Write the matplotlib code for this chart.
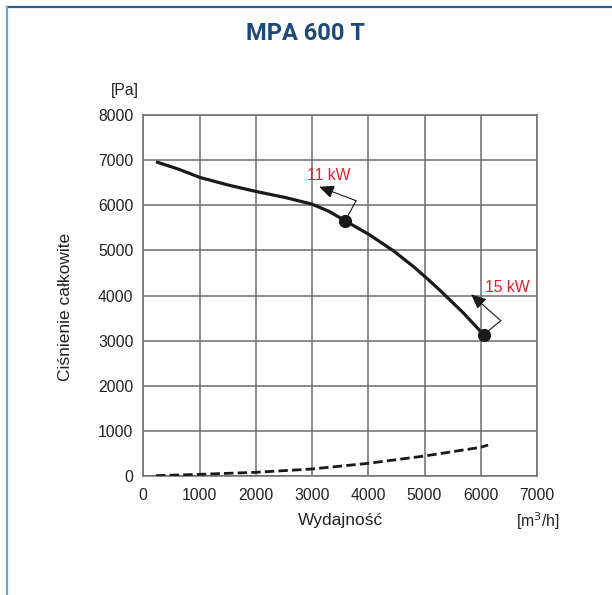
import matplotlib
matplotlib.use("Agg")
import matplotlib.pyplot as plt
from matplotlib.lines import Line2D

# ---- data ----
flow_solid = [226, 623, 1009, 1512, 2005, 2521, 2996, 3292, 3530, 3589, 4016, 4448,
              4804, 5025, 5279, 5694, 6050]
pressure_solid = [6963, 6801, 6615, 6447, 6305, 6172, 6026, 5870, 5700, 5655, 5350, 4990,
                  4640, 4400, 4110, 3610, 3132]

flow_dashed = [226, 1000, 2000, 3000, 4000, 5000, 6000, 6130]
pressure_dashed = [8, 37, 82, 155, 281, 443, 636, 687]

power_labels = ["11 kW", "15 kW"]
power_points_x = [3589, 6050]
power_points_y = [5655, 3132]
corner_x = [3783, 6356]
corner_y = [6101, 3441]
tip_x = [3125, 5828]
tip_y = [6411, 4027]
label_x = [3300, 6077]
label_y = [6670, 4173]
label_ha = ["center", "left"]

x_ticks = [0, 1000, 2000, 3000, 4000, 5000, 6000, 7000]
y_ticks = [0, 1000, 2000, 3000, 4000, 5000, 6000, 7000, 8000]

title = "MPA 600 T"
x_label = "Wydajność"
y_label = "Ciśnienie całkowite"
x_unit = "[m$^3$/h]"
y_unit = "[Pa]"

plt.rcParams['font.family'] = ['Liberation Sans', 'DejaVu Sans']

fig = plt.figure(figsize=(6.12, 5.95), dpi=100)
W, H = 612, 595

# frame lines
fig.add_artist(Line2D([6.5 / W, 1.0], [1 - 7 / H, 1 - 7 / H], color="#2c5d8f", lw=1.6,
                      transform=fig.transFigure))
fig.add_artist(Line2D([6.5 / W, 6.5 / W], [0, 1 - 7 / H], color="#7aa3cc", lw=1.6,
                      transform=fig.transFigure))

ax = fig.add_axes([143.3 / W, 1 - 476 / H, (537 - 143.3) / W, (476 - 115) / H])
ax.set_xlim(0, 7000)
ax.set_ylim(0, 8000)
ax.set_xticks(x_ticks)
ax.set_yticks(y_ticks)
ax.grid(True, color="#6e6e6e", lw=1.1)
ax.set_axisbelow(True)
for s in ax.spines.values():
    s.set_color("#6e6e6e")
    s.set_linewidth(1.1)
ax.tick_params(length=0, labelsize=11.3, colors="#222222", pad=7)
ax.tick_params(axis="x", pad=9)

ax.plot(flow_solid, pressure_solid, color="#1a1a1a", lw=2.3, solid_capstyle="butt",
        solid_joinstyle="round", zorder=3)
ax.plot(flow_dashed, pressure_dashed, color="#1a1a1a", lw=2.0, dashes=(3.4, 1.5), zorder=3)
ax.plot(power_points_x, power_points_y, "o", color="#1a1a1a", ms=8.5, zorder=4)

for i in range(len(power_labels)):
    ax.plot([power_points_x[i], corner_x[i]], [power_points_y[i], corner_y[i]],
            color="#1a1a1a", lw=0.8, zorder=3)
    ax.annotate("", xy=(tip_x[i], tip_y[i]), xytext=(corner_x[i], corner_y[i]),
                arrowprops=dict(arrowstyle="-|>,head_length=0.9,head_width=0.4",
                                color="#1a1a1a", lw=0.8, shrinkA=0, shrinkB=0),
                zorder=3)
    ax.text(label_x[i], label_y[i], power_labels[i], color="#e8202a", fontsize=11.3,
            ha=label_ha[i], va="center", zorder=5)

fig.text(0.5, 1 - 33 / H, title, ha="center", va="center", fontsize=17,
         fontweight="bold", color="#1b4a7a", family=["Roboto", "DejaVu Sans"])
fig.text((143.3 + 537) / 2 / W, 1 - 521 / H, x_label, ha="center", va="center", fontsize=12.5,
         color="#222222")
fig.text(538 / W, 1 - 521 / H, x_unit, ha="center", va="center", fontsize=11.3, color="#222222")
fig.text(66 / W, 1 - 307 / H, y_label, ha="center", va="center", rotation=90, fontsize=12.5,
         color="#222222")
fig.text(125 / W, 1 - 90 / H, y_unit, ha="center", va="center", fontsize=11.3, color="#222222")

fig.savefig("out.png", dpi=100, facecolor="white")
